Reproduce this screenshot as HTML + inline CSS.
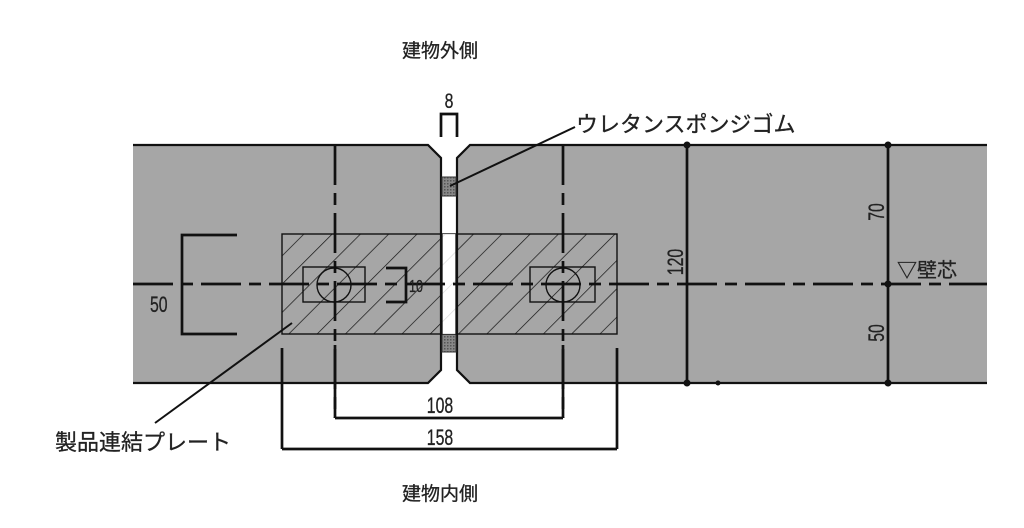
<!DOCTYPE html>
<html><head><meta charset="utf-8"><style>
html,body{margin:0;padding:0;background:#fff;}
svg{display:block}
text{font-family:"Liberation Sans","Noto Sans CJK JP",sans-serif;fill:#222;stroke:#222;stroke-width:0.3}
</style></head><body>
<svg width="1024" height="528" viewBox="0 0 1024 528" xmlns="http://www.w3.org/2000/svg">
<defs>
<pattern id="h" width="20" height="20" patternUnits="userSpaceOnUse" patternTransform="rotate(45)">
<line x1="0" y1="0" x2="0" y2="20" stroke="#111" stroke-width="1.4"/>
</pattern>
<pattern id="d" width="3" height="3" patternUnits="userSpaceOnUse">
<rect width="3" height="3" fill="#888"/><rect width="1.5" height="1.5" fill="#555"/>
</pattern>
</defs>
<path d="M133 145 H428 L441 158 V370 L428 383 H133 Z" fill="#a6a6a6"/>
<path d="M987 145 H470 L457 158 V370 L470 383 H987 Z" fill="#a6a6a6"/>
<path d="M133 145 H428 L441 158 V370 L428 383 H133" fill="none" stroke="#111" stroke-width="2.2"/>
<path d="M987 145 H470 L457 158 V370 L470 383 H987" fill="none" stroke="#111" stroke-width="2.2"/>
<rect x="442" y="177" width="14" height="19" fill="url(#d)" stroke="#333"/>
<rect x="442" y="334" width="14" height="18" fill="url(#d)" stroke="#333"/>
<rect x="282" y="234" width="335" height="100" fill="url(#h)" stroke="#111" stroke-width="1.4"/>
<rect x="442" y="234" width="14" height="100" fill="#fff" opacity="0.85"/>
<line x1="442" y1="234" x2="442" y2="334" stroke="#111" stroke-width="1.3"/>
<line x1="456" y1="234" x2="456" y2="334" stroke="#111" stroke-width="1.3"/>
<rect x="303" y="267" width="62" height="35" fill="none" stroke="#111" stroke-width="1.4"/>
<circle cx="334" cy="285" r="17" fill="none" stroke="#111" stroke-width="1.4"/>
<rect x="530" y="267" width="65" height="35" fill="none" stroke="#111" stroke-width="1.4"/>
<circle cx="563" cy="285" r="17" fill="none" stroke="#111" stroke-width="1.4"/>
<line x1="133" y1="284" x2="987" y2="284" stroke="#111" stroke-width="2.7" stroke-dasharray="40,8,12,8"/>
<line x1="335" y1="145" x2="335" y2="418" stroke="#111" stroke-width="2.7" stroke-dasharray="40,8,12,8"/>
<line x1="563" y1="145" x2="563" y2="418" stroke="#111" stroke-width="2.7" stroke-dasharray="40,8,12,8"/>
<g stroke="#111" stroke-width="2.7" fill="none">
<line x1="335" y1="345" x2="335" y2="418"/><line x1="563" y1="345" x2="563" y2="418"/>
<line x1="335" y1="418" x2="563" y2="418"/>
<line x1="282" y1="348" x2="282" y2="449"/><line x1="617" y1="348" x2="617" y2="449"/>
<line x1="282" y1="449" x2="617" y2="449"/>
<path d="M237 235 H182 V334 H237"/>
<path d="M386 268 H406 V302 H386"/>
<path d="M441 137 V114 H457 V137"/>
<line x1="687" y1="145" x2="687" y2="383"/>
<line x1="888" y1="145" x2="888" y2="383"/>
<line x1="575" y1="127" x2="450" y2="186" stroke-width="2"/>
<line x1="292" y1="323" x2="155" y2="423" stroke-width="2"/>
</g>
<g fill="#111"><circle cx="687" cy="145" r="3.5"/><circle cx="888" cy="145" r="3.5"/><circle cx="687" cy="383" r="3.5"/><circle cx="888" cy="383" r="3.5"/><circle cx="888" cy="284" r="3.5"/><circle cx="718" cy="383" r="2.5"/></g>
<text x="440" y="57" font-size="19" text-anchor="middle">建物外側</text>
<text x="440" y="500" font-size="19" text-anchor="middle">建物内側</text>
<text x="449" y="108" font-size="21" text-anchor="middle" transform="translate(449,0) scale(0.75,1) translate(-449,0)">8</text>
<text x="576" y="132" font-size="22">ウレタンスポンジゴム</text>
<text x="55" y="450" font-size="22">製品連結プレート</text>
<text x="0" y="0" font-size="22" text-anchor="middle" transform="translate(440,413) scale(0.72,1)">108</text>
<text x="0" y="0" font-size="22" text-anchor="middle" transform="translate(440,445) scale(0.72,1)">158</text>
<text x="0" y="0" font-size="22" transform="translate(150,312) scale(0.72,1)">50</text>
<text x="0" y="0" font-size="18" transform="translate(409,292) scale(0.7,1)">10</text>
<text x="897" y="277" font-size="20">▽壁芯</text>
<text font-size="22" text-anchor="middle" transform="translate(683,262) rotate(-90) scale(0.72,1)">120</text>
<text font-size="22" text-anchor="middle" transform="translate(884,212) rotate(-90) scale(0.72,1)">70</text>
<text font-size="22" text-anchor="middle" transform="translate(884,333) rotate(-90) scale(0.72,1)">50</text>
</svg>
</body></html>
